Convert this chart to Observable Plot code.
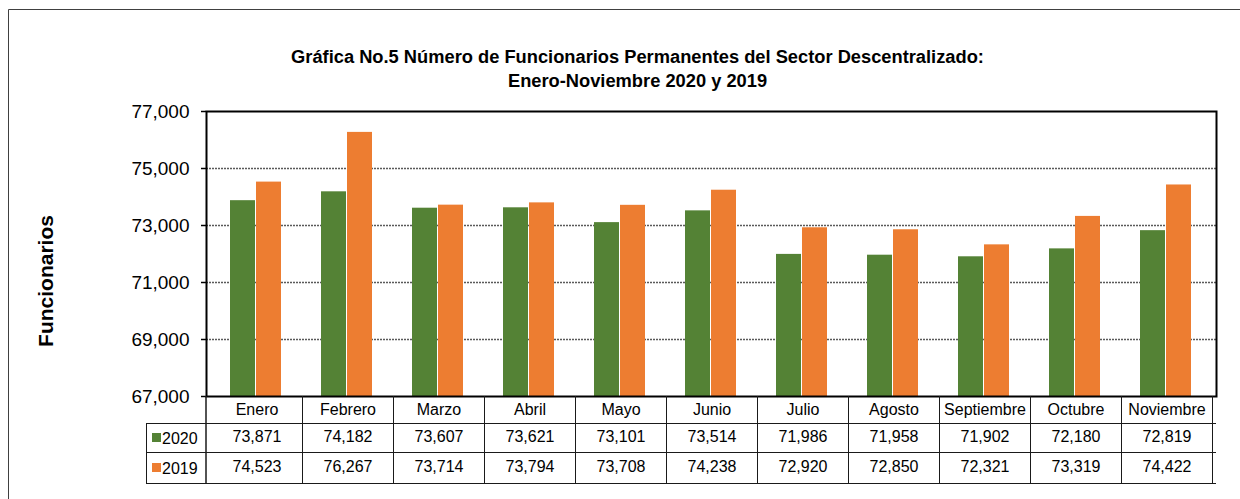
<!DOCTYPE html>
<html>
<head>
<meta charset="utf-8">
<script src="https://cdn.jsdelivr.net/npm/d3@7"></script>
<script src="https://cdn.jsdelivr.net/npm/@observablehq/plot@0.6"></script>
<style>
  html, body { margin: 0; padding: 0; background: #fff; }
  #chart { position: relative; width: 1240px; height: 499px; overflow: hidden; }
</style>
</head>
<body>
<div id="chart"></div>
<script>
const titleLines = ["Gráfica No.5 Número de Funcionarios Permanentes del Sector Descentralizado:", "Enero-Noviembre 2020 y 2019"];
const yLabel = "Funcionarios";
const months = ["Enero", "Febrero", "Marzo", "Abril", "Mayo", "Junio", "Julio", "Agosto", "Septiembre", "Octubre", "Noviembre"];
const seriesNames = ["2020", "2019"];
const values2020 = [73871, 74182, 73607, 73621, 73101, 73514, 71986, 71958, 71902, 72180, 72819];
const values2019 = [74523, 76267, 73714, 73794, 73708, 74238, 72920, 72850, 72321, 73319, 74422];
const yTicks = [67000, 69000, 71000, 73000, 75000, 77000];
const colors = ["#548235", "#ED7D31"];

const fmt = d3.format(",");
const d2020 = months.map((m, i) => ({month: m, value: values2020[i]}));
const d2019 = months.map((m, i) => ({month: m, value: values2019[i]}));

const FONT = "'Liberation Sans', Arial, sans-serif";

const chart = Plot.plot({
  width: 1240,
  height: 499,
  marginTop: 111,
  marginBottom: 103,
  marginLeft: 206,
  marginRight: 24,
  style: {fontFamily: FONT, background: "white", color: "black"},
  x: {domain: months, padding: 0, axis: null},
  y: {domain: [67000, 77000], axis: null},
  marks: [
    Plot.gridY(yTicks.slice(1, -1), {stroke: "#5a5a5a", strokeOpacity: 1, strokeWidth: 1.6, strokeDasharray: "2,1"}),
    Plot.barY(d2020, {x: "month", y1: 67000, y2: "value", fill: colors[0], insetLeft: 19, insetRight: 47}),
    Plot.barY(d2019, {x: "month", y1: 67000, y2: "value", fill: colors[1], insetLeft: 45, insetRight: 21}),
    Plot.axisY({ticks: yTicks, tickFormat: fmt, tickSize: 5, tickPadding: 12, fontSize: 19, stroke: "black", strokeWidth: 1.5, label: null}),
    Plot.frame({stroke: "black", strokeWidth: 2}),
    Plot.text(months, {x: d => d, frameAnchor: "bottom", dy: 18, fontSize: 16, fill: "black"}),
    Plot.text(d2020, {x: "month", text: d => fmt(d.value), frameAnchor: "bottom", dy: 45, fontSize: 16, fill: "black"}),
    Plot.text(d2019, {x: "month", text: d => fmt(d.value), frameAnchor: "bottom", dy: 75, fontSize: 16, fill: "black"})
  ]
});

document.getElementById("chart").appendChild(chart);

const svg = d3.select(chart);
const xs = chart.scale("x");
const ys = chart.scale("y");
const bw = xs.bandwidth;
const left = xs.range[0], right = xs.range[1];
const bottom = ys.apply(67000);
const rowH = [27, 29, 31];
const r1 = bottom + rowH[0], r2 = r1 + rowH[1], r3 = r2 + rowH[2];
const legX = 146;

// outer frame
svg.append("path").attr("d", `M8.5,499V9.5H1240`).attr("fill", "none").attr("stroke", "#404040").attr("stroke-width", 1);

// table lines
const g = svg.append("g").attr("stroke", "#1a1a1a").attr("stroke-width", 1).attr("fill", "none");
[r1, r2, r3].forEach(y => g.append("line").attr("x1", legX).attr("x2", right).attr("y1", y + 0.5).attr("y2", y + 0.5));
months.forEach(m => {
  const x0 = xs.apply(m);
  g.append("line").attr("x1", x0 + bw + 0.5).attr("x2", x0 + bw + 0.5).attr("y1", bottom).attr("y2", r3 + 0.5);
});
g.append("line").attr("x1", left).attr("x2", left).attr("y1", bottom).attr("y2", r3 + 0.5).attr("stroke-width", 1.5);
g.append("line").attr("x1", legX + 0.5).attr("x2", legX + 0.5).attr("y1", r1).attr("y2", r3 + 0.5);

// legend column
seriesNames.forEach((s, i) => {
  const yc = i === 0 ? (r1 + r2) / 2 : (r2 + r3) / 2;
  svg.append("rect").attr("x", 152).attr("y", yc - 4.5).attr("width", 9).attr("height", 9).attr("fill", colors[i]);
  svg.append("text").attr("x", 162).attr("y", yc + 1).attr("dy", "0.35em").attr("text-anchor", "start")
    .attr("font-size", 16).attr("font-family", FONT).attr("fill", "black").text(s);
});

// title
titleLines.forEach((t, i) => {
  svg.append("text").attr("x", 637.5).attr("y", 63 + i * 24).attr("text-anchor", "middle")
    .attr("font-size", 18.3).attr("font-weight", "bold").attr("font-family", FONT).attr("fill", "black").text(t);
});

// y label
svg.append("text").attr("transform", `translate(53,281) rotate(-90)`).attr("text-anchor", "middle")
  .attr("font-size", 21).attr("font-weight", "bold").attr("font-family", FONT).attr("fill", "black").text(yLabel);
</script>
</body>
</html>
